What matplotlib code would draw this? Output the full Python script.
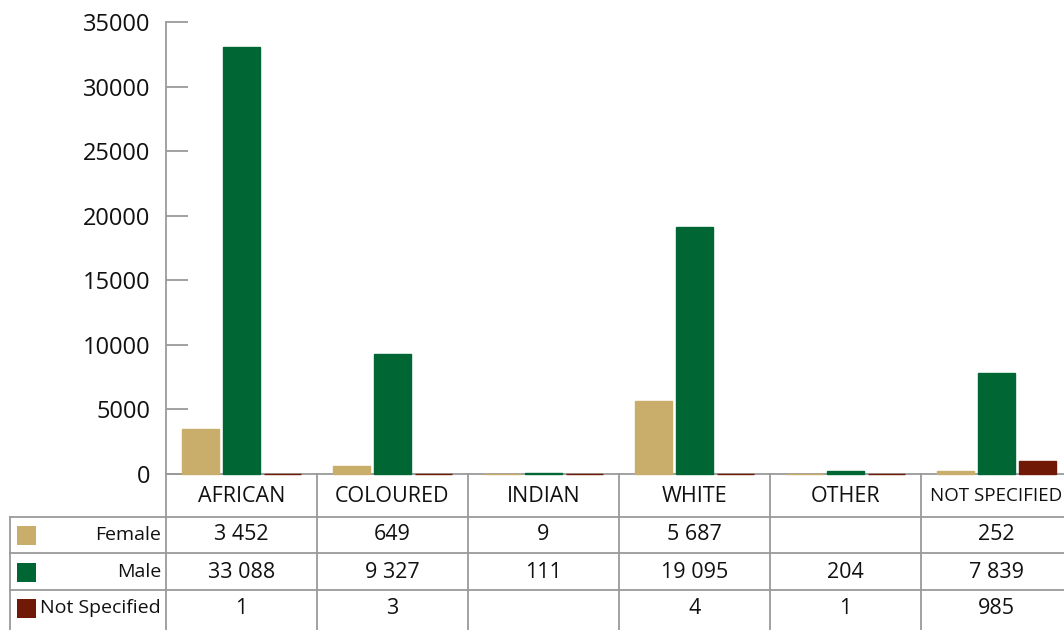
#!/usr/bin/env python3
import numpy as np
import matplotlib
matplotlib.use("Agg")
import matplotlib.pyplot as plt
from matplotlib.patches import Rectangle
from matplotlib.transforms import blended_transform_factory

plt.rcParams['font.family'] = ['Open Sans', 'DejaVu Sans']

# data
categories = ['AFRICAN', 'COLOURED', 'INDIAN', 'WHITE', 'OTHER', 'NOT SPECIFIED']
series_names = ['Female', 'Male', 'Not Specified']
female = [3452, 649, 9, 5687, None, 252]
male = [33088, 9327, 111, 19095, 204, 7839]
not_specified = [1, 3, None, 4, 1, 985]
yticks = [0, 5000, 10000, 15000, 20000, 25000, 30000, 35000]

colors = ['#C9AE6B', '#006633', '#701906']
grid_col = '#9a9a9a'

W, H = 1064, 630
fig = plt.figure(figsize=(W / 100, H / 100), dpi=100)

# axes: x from 166px, 151px per category, y 0 at 474px, 35000 at 22px
col_px = 151
left_px, bottom_px, top_px = 166, 474, 22
ax = fig.add_axes([left_px / W, (H - bottom_px) / H,
                   6 * col_px / W, (bottom_px - top_px) / H])

x = np.arange(len(categories))
width = 0.24
offset = 0.2715
all_series = [female, male, not_specified]
for i, (vals, c) in enumerate(zip(all_series, colors)):
    h = [0 if v is None else v for v in vals]
    # thin edge keeps the near-zero bars visible as lines on the baseline
    ax.bar(x + (i - 1) * offset, h, width, color=c, edgecolor=c,
           linewidth=1.0, zorder=4, clip_on=False)

ax.set_xlim(-0.5, len(categories) - 0.5)
ax.set_ylim(0, 35000)
ax.set_yticks(yticks)
ax.set_xticks([])
for s in ['top', 'right']:
    ax.spines[s].set_visible(False)
ax.spines['left'].set_color(grid_col)
ax.spines['bottom'].set_color(grid_col)
ax.spines['left'].set_linewidth(1.3)
ax.spines['bottom'].set_linewidth(1.3)
ax.tick_params(axis='y', direction='in', length=16, width=1.3, color=grid_col,
               pad=11, labelsize=17, labelcolor='#111111')

# table below the axes
tr = blended_transform_factory(ax.transData, fig.transFigure)
def fy(px):
    return (H - px) / H

lab_left = -0.5 - (left_px - 10) / col_px
line_kw = dict(color=grid_col, lw=1.3, transform=tr, clip_on=False)

# vertical lines between categories (header + body)
for k in range(len(categories) + 1):
    ax.plot([k - 0.5, k - 0.5], [fy(474), fy(632)], **line_kw)
# left border of row-label column
ax.plot([lab_left, lab_left], [fy(517), fy(632)], **line_kw)
# horizontal row lines
for ypx in [517, 553, 590]:
    ax.plot([lab_left, len(categories) + 0.5], [fy(ypx), fy(ypx)], **line_kw)

# header labels
for i, cat in enumerate(categories):
    fs = 13.5 if len(cat) > 10 else 15.5
    ax.text(i, fy(496), cat, transform=tr, ha='center', va='center',
            fontsize=fs, color='#111111')

# rows
row_mid = [535, 572, 608]
sq_w = 19 / col_px
for r, (name, vals, c) in enumerate(zip(series_names, all_series, colors)):
    y = row_mid[r]
    ax.add_patch(Rectangle((lab_left + 7 / col_px, fy(y + 9.5)), sq_w, 19 / H,
                           facecolor=c, edgecolor='none', transform=tr,
                           clip_on=False))
    ax.text(-0.5 - 5 / col_px, fy(y), name, transform=tr, ha='right',
            va='center', fontsize=14, color='#111111')
    for i, v in enumerate(vals):
        if v is None:
            continue
        s = f"{v:,}".replace(",", " ")
        ax.text(i, fy(y), s, transform=tr, ha='center', va='center',
                fontsize=15.5, color='#111111')

fig.savefig('out.png', dpi=100)
